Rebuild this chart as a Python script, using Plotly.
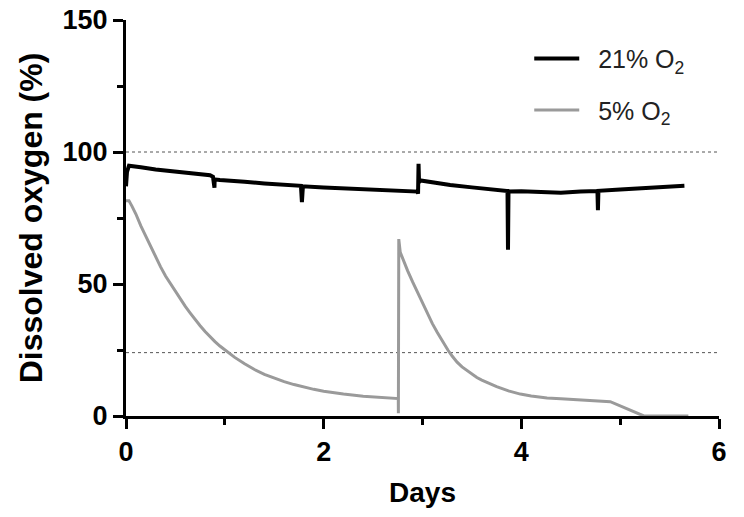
import plotly.graph_objects as go

# ---- data ----
days_21 = [0.0, 0.01, 0.03, 0.06, 0.15, 0.3, 0.5, 0.7, 0.85, 0.88, 0.895, 0.897, 0.90, 0.95,
           1.0, 1.2, 1.4, 1.6, 1.77, 1.78, 1.785, 1.79, 2.0, 2.2, 2.4, 2.67, 2.8, 2.95,
           2.955, 2.96, 2.965, 2.98, 3.1, 3.28, 3.5, 3.7, 3.86, 3.865, 3.87, 4.0,
           4.2, 4.4, 4.6, 4.77, 4.775, 4.78, 5.0, 5.2, 5.4, 5.65]
o2_21 = [87.0, 92.5, 94.8, 94.6, 94.2, 93.4, 92.6, 91.8, 91.2, 90.6, 86.5, 89.8, 89.6, 89.4,
         89.2, 88.7, 88.1, 87.6, 87.2, 81.0, 87.0, 87.0, 86.6, 86.3, 86.0, 85.6, 85.3, 85.0,
         84.2, 95.5, 88.5, 89.2, 88.4, 87.5, 86.6, 85.8, 85.2, 63.0, 85.0, 85.1,
         84.7, 84.6, 85.0, 85.2, 78.0, 85.3, 85.8, 86.3, 86.7, 87.2]

days_5 = [0.0, 0.03, 0.06, 0.1, 0.15, 0.2, 0.25, 0.3, 0.35, 0.4, 0.45, 0.5, 0.55, 0.6, 0.65,
          0.7, 0.75, 0.8, 0.85, 0.9, 0.95, 1.0, 1.1, 1.2, 1.3, 1.4, 1.5, 1.6, 1.7, 1.8, 1.9,
          2.0, 2.2, 2.4, 2.6, 2.755, 2.756, 2.76, 2.775, 2.8, 2.85, 2.9, 2.95, 3.01, 3.05,
          3.1, 3.15, 3.2, 3.26, 3.3, 3.35, 3.4, 3.48, 3.55, 3.6, 3.68, 3.75, 3.87, 3.99,
          4.1, 4.26, 4.4, 4.6, 4.9, 5.24, 5.69]
o2_5 = [81.5, 81.5, 79.5, 76.5, 72.0, 68.0, 64.0, 60.0, 56.5, 53.0, 50.0, 47.0, 44.2, 41.5,
        39.0, 36.5, 34.2, 32.0, 30.0, 28.2, 26.5, 25.0, 22.2, 19.8, 17.6, 15.8, 14.3, 13.0,
        11.9, 10.9, 10.1, 9.4, 8.3, 7.5, 6.9, 6.6, 1.0, 67.0, 62.0, 59.5, 55.0, 50.8, 46.8,
        41.8, 38.4, 35.0, 31.6, 28.3, 24.8, 22.7, 20.4, 18.6, 16.3, 14.6, 13.6, 12.2, 11.1,
        9.5, 8.3, 7.6, 6.8, 6.5, 6.1, 5.4, 0.0, 0.0]

ref_levels = [100, 24]
series_names = ["\u00a0\u00a021% O<sub>2</sub>", "\u00a0\u00a05% O<sub>2</sub>"]
x_ticks = [0, 2, 4, 6]
y_ticks = [0, 50, 100, 150]

FONT = "Liberation Sans, Arial, sans-serif"

fig = go.Figure()
fig.add_trace(go.Scatter(x=days_21, y=o2_21, mode="lines", name=series_names[0],
                         legendgroup="a", line=dict(color="#000000", width=4)))
fig.add_trace(go.Scatter(x=days_5, y=o2_5, mode="lines", name=series_names[1],
                         legendgroup="b", line=dict(color="#9a9a9a", width=3)))

for lvl in ref_levels:
    fig.add_hline(y=lvl, line=dict(color="#555555", width=1, dash="dot"), layer="below")

axis_common = dict(
    showline=True, linecolor="black", linewidth=3,
    ticks="outside", ticklen=10, tickwidth=3, tickcolor="black",
    showgrid=False, zeroline=False, automargin=False,
    tickfont=dict(family=FONT, size=27, color="black", weight="bold"),
)

fig.update_xaxes(range=[0, 6], tickvals=x_ticks,
                 minor=dict(dtick=1, ticks="outside", ticklen=6, tickwidth=3, tickcolor="black"),
                 title=dict(text="<b>Days</b>", font=dict(family=FONT, size=28, color="black"), standoff=16),
                 **axis_common)
fig.update_yaxes(range=[0, 150], tickvals=y_ticks,
                 minor=dict(dtick=25, ticks="outside", ticklen=6, tickwidth=3, tickcolor="black"),
                 title=dict(text="<b>Dissolved oxygen (%)</b>", font=dict(family=FONT, size=32, color="black"), standoff=11),
                 **axis_common)

fig.update_layout(
    width=744, height=517,
    margin=dict(l=126, r=25, t=20, b=101),
    paper_bgcolor="white", plot_bgcolor="white",
    showlegend=True,
    legend=dict(x=0.68, y=0.96, xanchor="left", yanchor="top",
                font=dict(family=FONT, size=25, color="#222222"),
                bgcolor="rgba(0,0,0,0)", itemwidth=45, tracegroupgap=16,
                traceorder="grouped"),
)

fig.write_html("out.html", config={"displayModeBar": False},
               post_script="document.body.style.margin='0px';")
